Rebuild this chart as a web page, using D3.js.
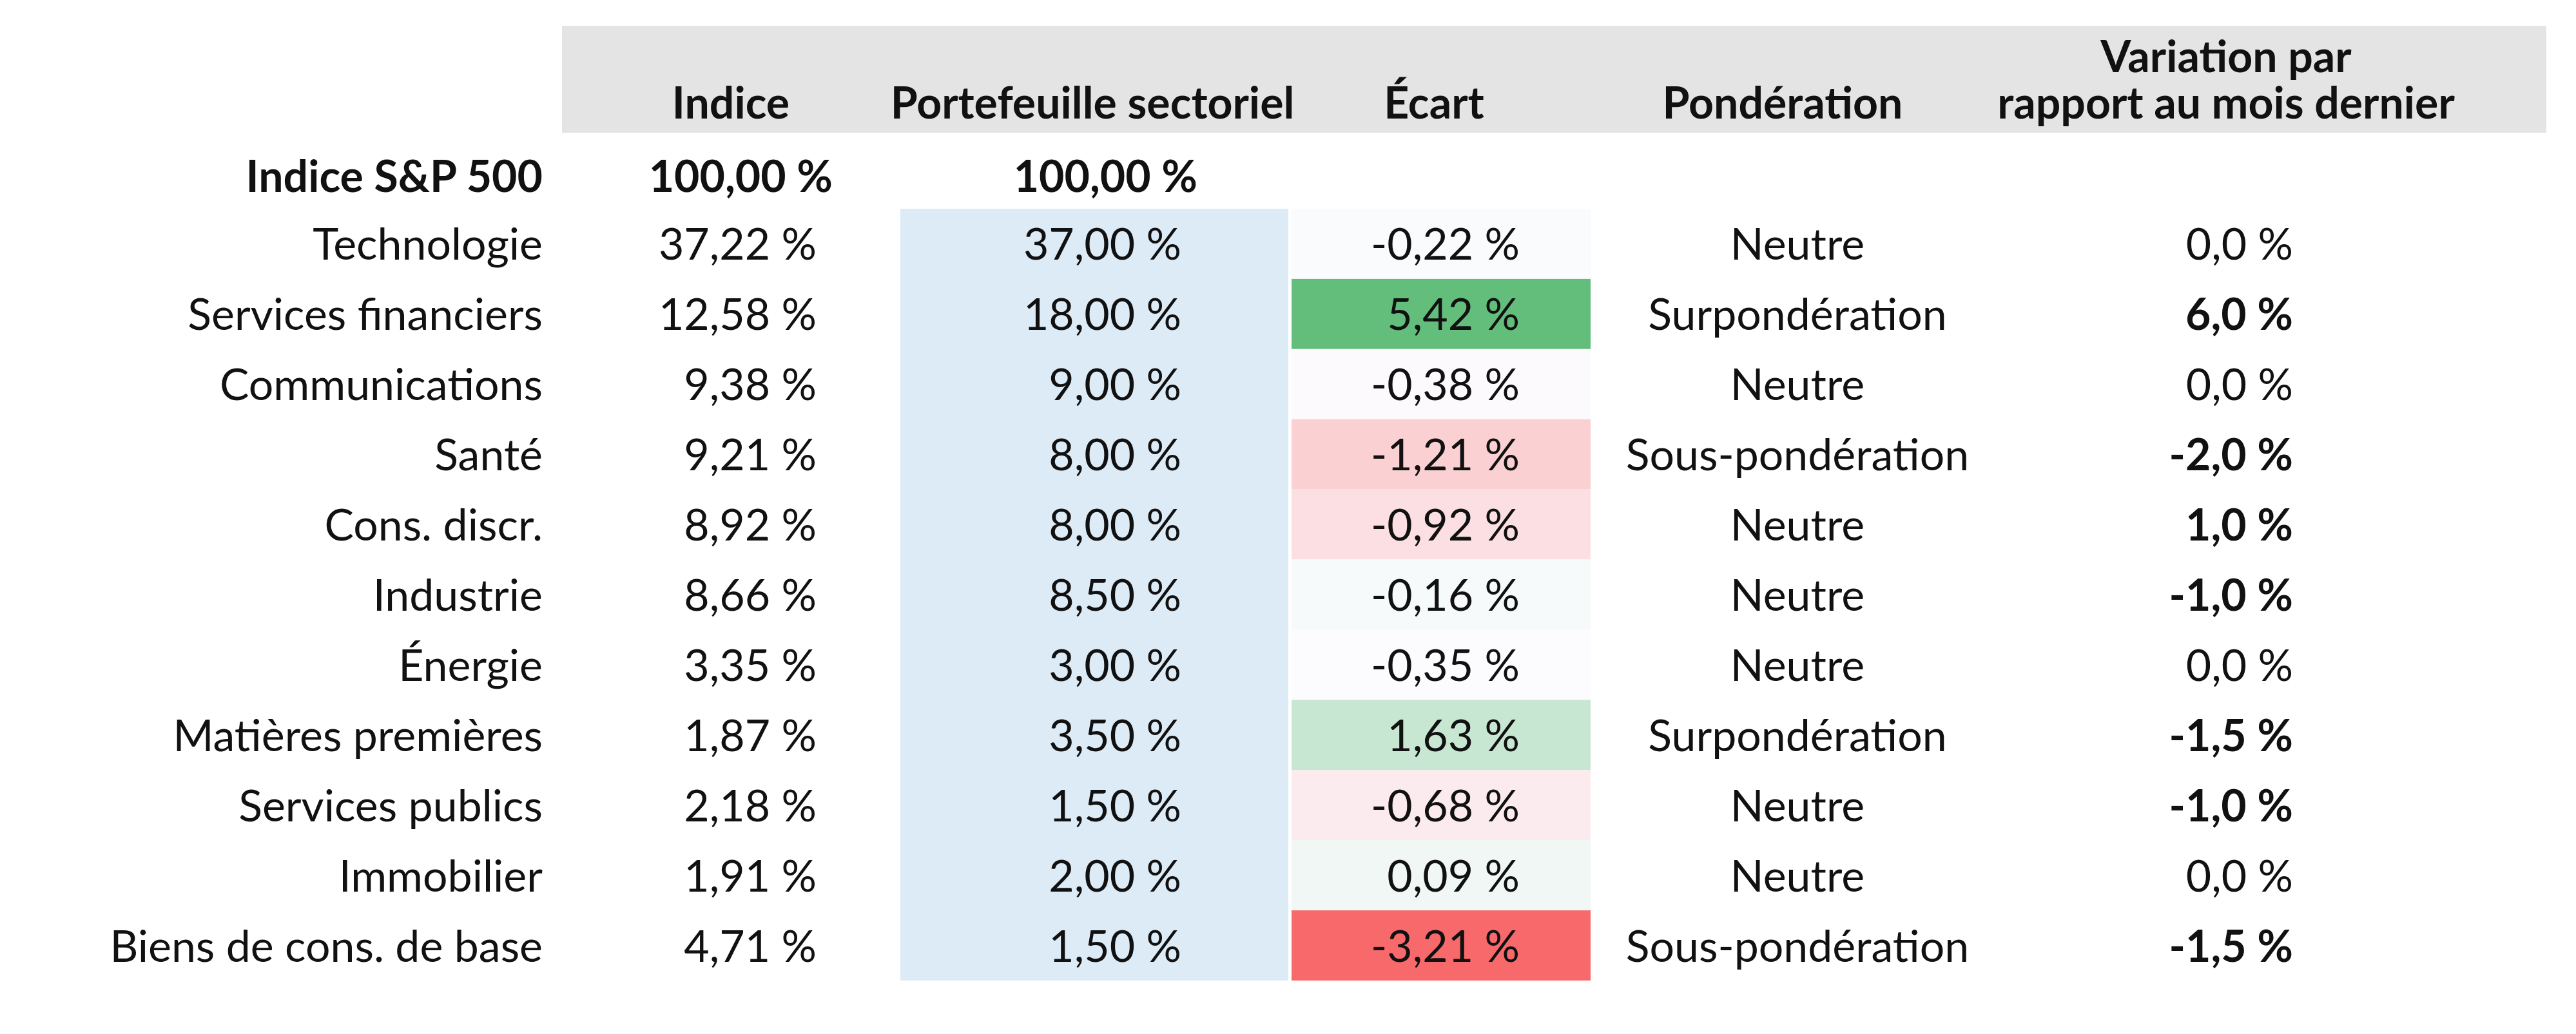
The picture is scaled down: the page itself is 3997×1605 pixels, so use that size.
<!DOCTYPE html>
<html><head><meta charset="utf-8">
<script src="https://cdn.jsdelivr.net/npm/d3@7"></script>
<style>body{margin:0;background:#fff}text{font-family:Lato,"Open Sans",sans-serif;fill:#111}</style>
</head><body>
<svg id="chart" width="3997" height="1605"></svg>
<script>
// table data
var sectors = ["Technologie","Services financiers","Communications","Santé","Cons. discr.","Industrie","Énergie","Matières premières","Services publics","Immobilier","Biens de cons. de base"];
var indice = [37.22,12.58,9.38,9.21,8.92,8.66,3.35,1.87,2.18,1.91,4.71];
var portefeuille = [37.00,18.00,9.00,8.00,8.00,8.50,3.00,3.50,1.50,2.00,1.50];
var ecart = [-0.22,5.42,-0.38,-1.21,-0.92,-0.16,-0.35,1.63,-0.68,0.09,-3.21];
var ponderation = ["Neutre","Surpondération","Neutre","Sous-pondération","Neutre","Neutre","Neutre","Surpondération","Neutre","Neutre","Sous-pondération"];
var variation = [0.0,6.0,0.0,-2.0,1.0,-1.0,0.0,-1.5,-1.0,0.0,-1.5];

var svg = d3.select("#chart");
var fs = 68;
var fmt = (v, d) => v.toFixed(d).replace(".", ",") + " %";

// row positions
var y = d3.scaleBand().domain(d3.range(sectors.length)).range([324, 1522]).padding(0);

// header band
svg.append("rect").attr("x", 872).attr("y", 40).attr("width", 3951 - 872).attr("height", 166).attr("fill", "#e4e4e4");
var hdr = [
  {t:"Indice", x:1134, y:184},
  {t:"Portefeuille sectoriel", x:1695, y:184},
  {t:"Écart", x:2225, y:184},
  {t:"Pondération", x:2766, y:184},
  {t:"Variation par", x:3454, y:112},
  {t:"rapport au mois dernier", x:3454, y:184}
];
svg.selectAll(".hdr").data(hdr).enter().append("text")
  .attr("x", d => d.x).attr("y", d => d.y).attr("text-anchor", "middle")
  .attr("font-size", fs).attr("font-weight", "bold").text(d => d.t);

// S&P row
svg.append("text").attr("x", 842).attr("y", 298).attr("text-anchor", "end").attr("font-size", fs).attr("font-weight", "bold").text("Indice S&P 500");
svg.append("text").attr("x", 1292).attr("y", 298).attr("text-anchor", "end").attr("font-size", fs).attr("font-weight", "bold").text(fmt(100, 2));
svg.append("text").attr("x", 1858).attr("y", 298).attr("text-anchor", "end").attr("font-size", fs).attr("font-weight", "bold").text(fmt(100, 2));

// blue portfolio column
svg.append("rect").attr("x", 1397).attr("y", y(0)).attr("width", 602).attr("height", y.range()[1] - y(0)).attr("fill", "#ddebf7");

// écart colour scale (midpoint at the median, like a spreadsheet 3-colour scale)
var color = d3.scaleLinear().domain([d3.min(ecart), d3.median(ecart), d3.max(ecart)]).range(["#f8696b", "#fcfcff", "#63be7b"]);
svg.selectAll(".ec").data(ecart).enter().append("rect")
  .attr("x", 2004).attr("y", (d, i) => y(i)).attr("width", 464).attr("height", y.bandwidth())
  .attr("fill", d => color(d));

var rows = svg.selectAll(".row").data(sectors).enter().append("g")
  .attr("transform", (d, i) => "translate(0," + (y(i) + y.bandwidth() / 2 + 25) + ")");
rows.append("text").attr("x", 842).attr("text-anchor", "end").attr("font-size", fs).text(d => d);
rows.append("text").attr("x", 1267).attr("text-anchor", "end").attr("font-size", fs).text((d, i) => fmt(indice[i], 2));
rows.append("text").attr("x", 1833).attr("text-anchor", "end").attr("font-size", fs).text((d, i) => fmt(portefeuille[i], 2));
rows.append("text").attr("x", 2358).attr("text-anchor", "end").attr("font-size", fs).text((d, i) => fmt(ecart[i], 2));
rows.append("text").attr("x", 2789).attr("text-anchor", "middle").attr("font-size", fs).text((d, i) => ponderation[i]);
rows.append("text").attr("x", 3558).attr("text-anchor", "end").attr("font-size", fs)
  .attr("font-weight", (d, i) => variation[i] !== 0 ? "bold" : "normal")
  .text((d, i) => fmt(variation[i], 1));
</script>
</body></html>
